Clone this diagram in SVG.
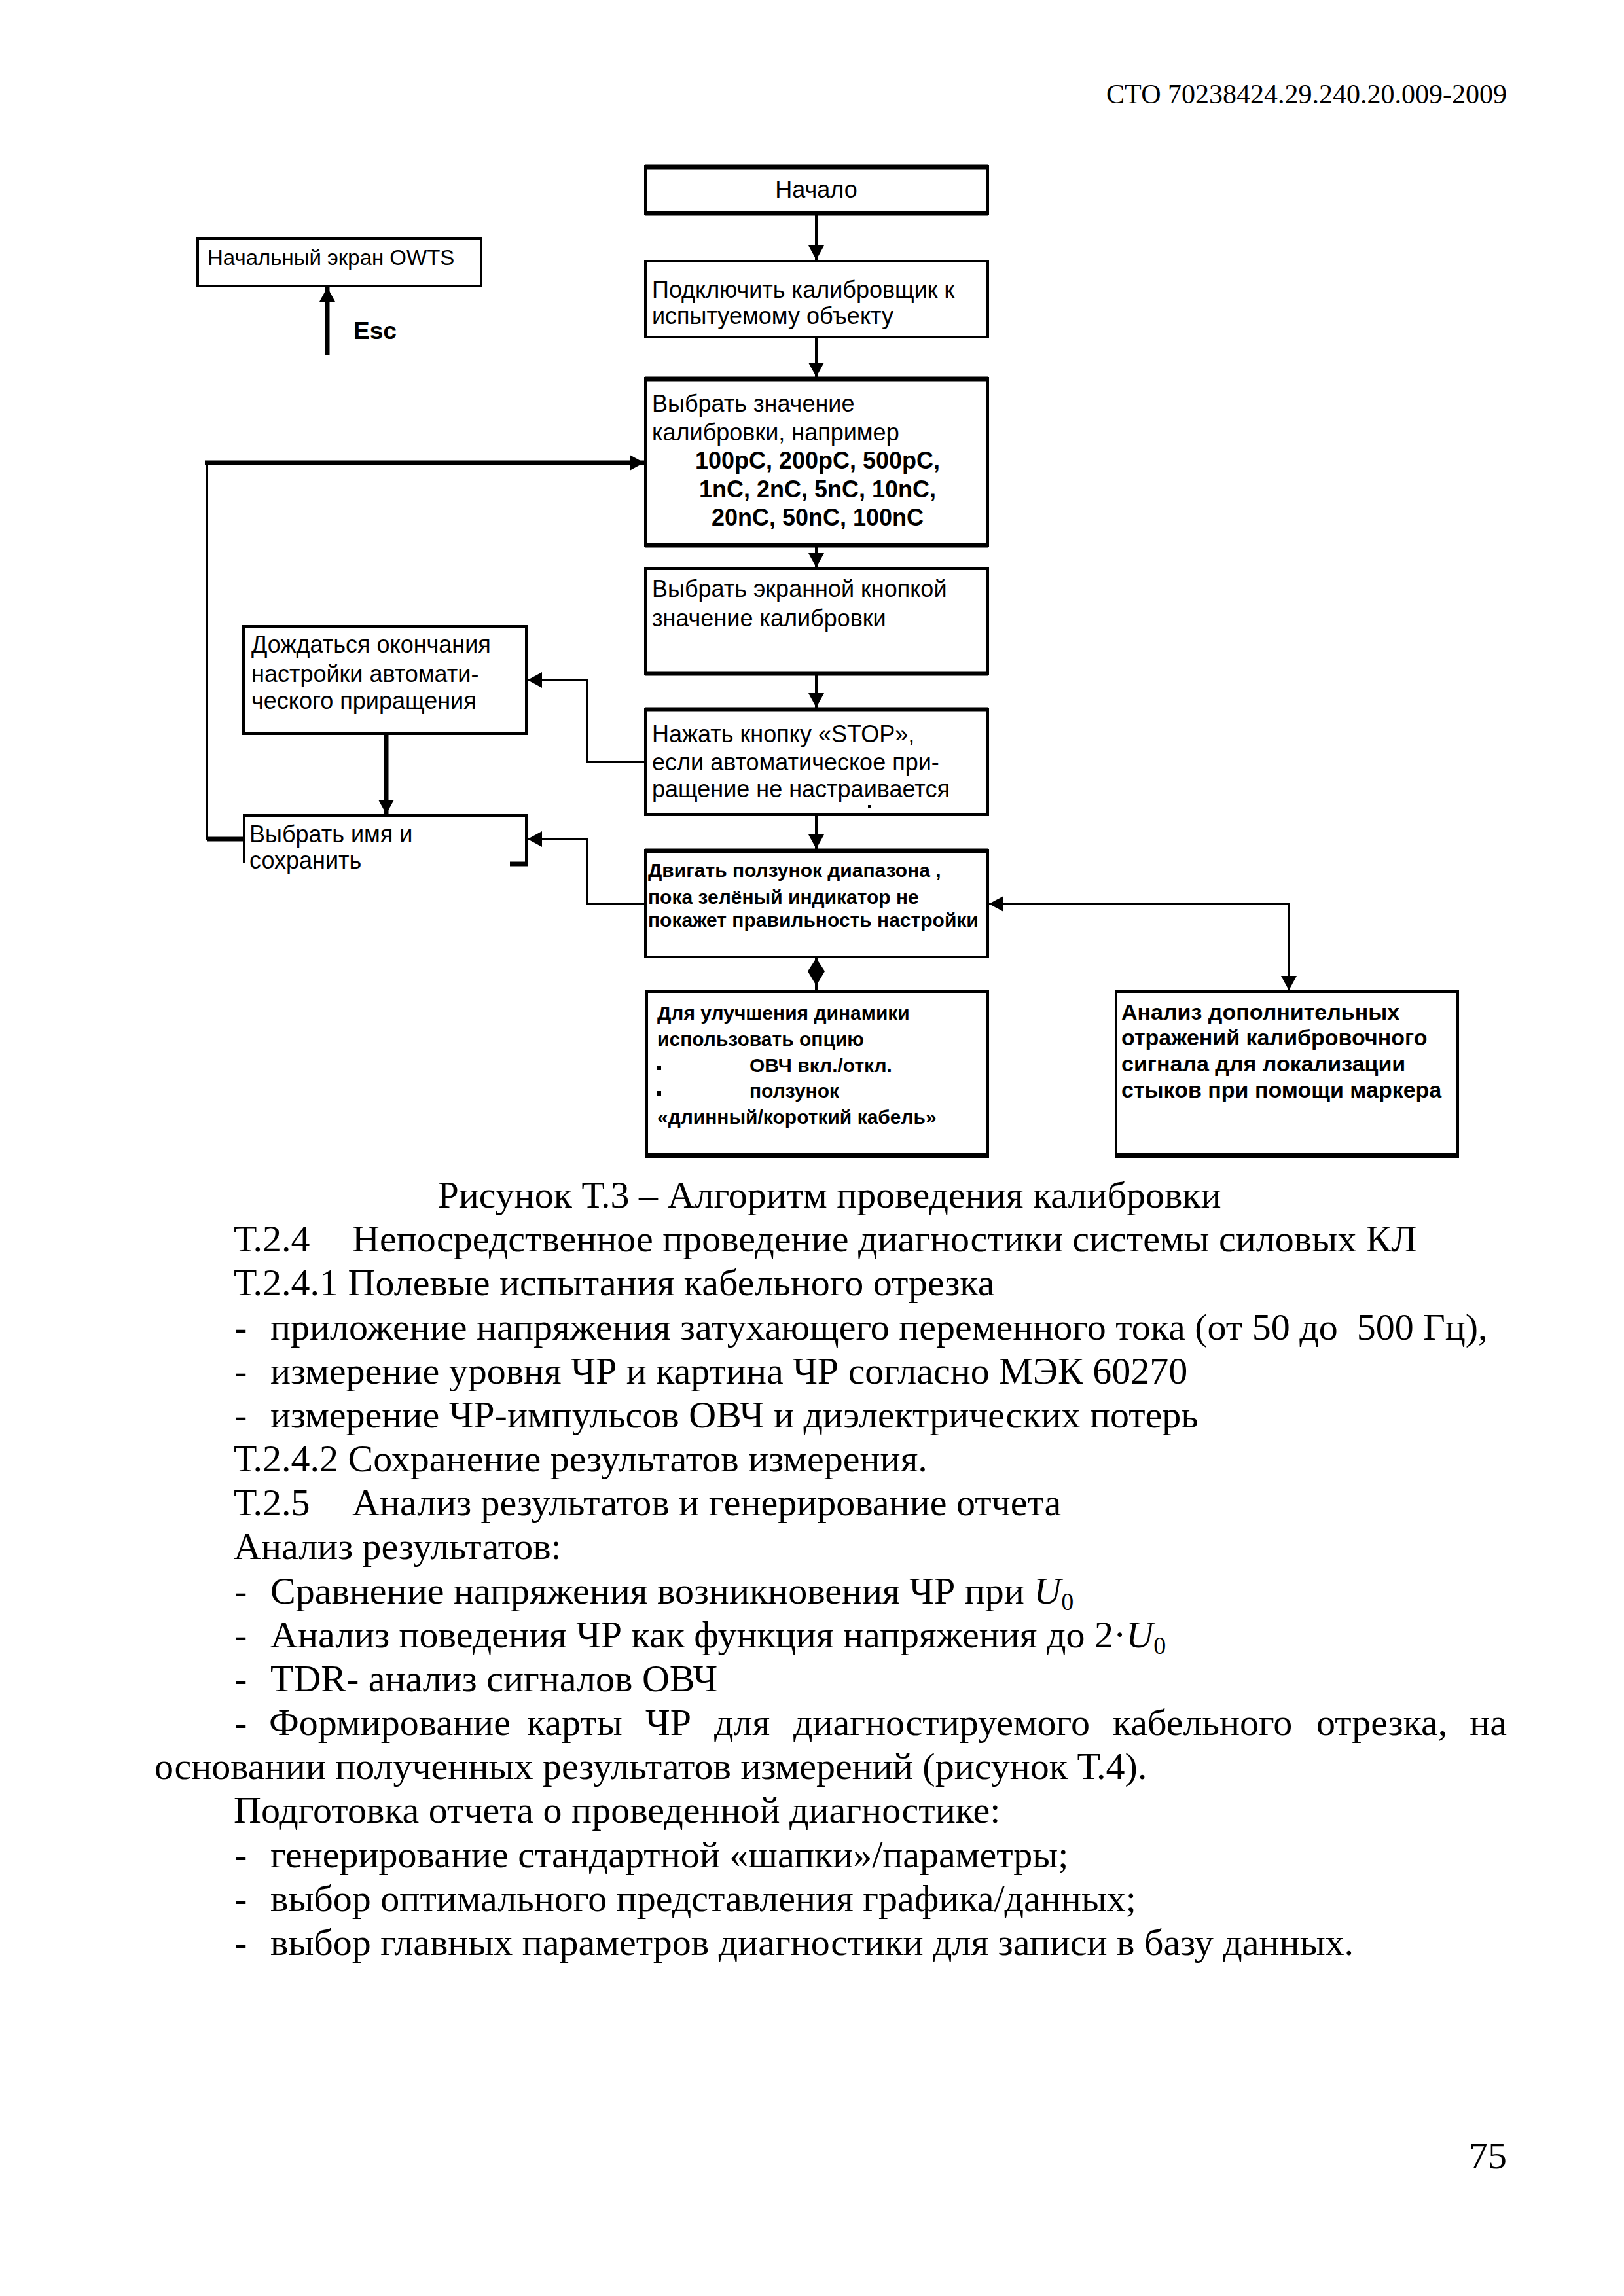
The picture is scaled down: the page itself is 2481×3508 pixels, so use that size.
<svg xmlns="http://www.w3.org/2000/svg" width="2481" height="3508" viewBox="0 0 2481 3508">
<defs>
<style>
.bx{fill:#fff;stroke:#000;stroke-width:4}
.thk{stroke:#000;stroke-width:7;fill:none}
.ln{stroke:#000;stroke-width:4;fill:none}
.t{font-family:"Liberation Sans",Arial,sans-serif;font-size:36px;fill:#000}
.tb{font-family:"Liberation Sans",Arial,sans-serif;font-size:30px;font-weight:bold;fill:#000}
.ta{font-family:"Liberation Sans",Arial,sans-serif;font-size:34px;font-weight:bold;fill:#000}
.s{font-family:"Liberation Serif","Times New Roman",serif;font-size:58px;fill:#000;white-space:pre}
</style>
<marker id="ah" viewBox="0 0 22 24" refX="22" refY="12" markerWidth="22" markerHeight="24" markerUnits="userSpaceOnUse" orient="auto-start-reverse">
<path d="M0,0 L22,12 L0,24 z" fill="#000"/>
</marker>
</defs>
<rect width="2481" height="3508" fill="#fff"/>

<text class="s" x="2302" y="158" text-anchor="end" style="font-size:42px">СТО 70238424.29.240.20.009-2009</text>

<g id="connectors">
<line class="ln" x1="1247" y1="327" x2="1247" y2="397" marker-end="url(#ah)"/>
<line class="ln" x1="1247" y1="515" x2="1247" y2="576" marker-end="url(#ah)"/>
<line class="ln" x1="1247" y1="834" x2="1247" y2="867" marker-end="url(#ah)"/>
<line class="ln" x1="1247" y1="1030" x2="1247" y2="1081" marker-end="url(#ah)"/>
<line class="ln" x1="1247" y1="1244" x2="1247" y2="1297" marker-end="url(#ah)"/>
<line class="ln" x1="1247" y1="1462" x2="1247" y2="1515"/>
<polygon points="1247,1464 1260,1484 1247,1506 1234,1484" fill="#000"/>
<polyline class="ln" points="986,1164 897,1164 897,1039 806,1039" marker-end="url(#ah)"/>
<line class="thk" x1="590" y1="1121" x2="590" y2="1244" marker-end="url(#ah)"/>
<polyline class="ln" points="986,1381 897,1381 897,1282 806,1282" marker-end="url(#ah)"/>
<polyline class="ln" points="373,1282 316,1282 316,707" />
<line class="thk" x1="373" y1="1282" x2="316" y2="1282"/>
<line class="thk" x1="313" y1="707" x2="984" y2="707" marker-end="url(#ah)"/>
<polyline class="ln" points="1511,1381 1969,1381 1969,1513" marker-start="url(#ah)" marker-end="url(#ah)"/>
<line class="thk" x1="500" y1="543" x2="500" y2="439" marker-end="url(#ah)"/>
</g>

<g id="n-start">
<rect class="bx" x="986" y="254" width="523" height="73"/>
<line class="thk" x1="986" y1="255" x2="1509" y2="255"/>
<line class="thk" x1="986" y1="326" x2="1509" y2="326"/>
<text class="t" x="1247" y="302" text-anchor="middle">Начало</text>
</g>

<g id="n-owts">
<rect class="bx" x="302" y="364" width="433" height="73"/>
<text class="t" x="317" y="405" style="font-size:33px">Начальный экран OWTS</text>
</g>
<text class="t" x="540" y="518" style="font-weight:bold;font-size:37px">Esc</text>

<g id="n-connect">
<rect class="bx" x="986" y="399" width="523" height="116"/>
<text class="t" x="996" y="455">Подключить калибровщик к</text>
<text class="t" x="996" y="495">испытуемому объекту</text>
</g>

<g id="n-select-value">
<rect class="bx" x="986" y="578" width="523" height="256"/>
<line class="thk" x1="986" y1="579" x2="1509" y2="579"/>
<line class="thk" x1="986" y1="833" x2="1509" y2="833"/>
<text class="t" x="996" y="629">Выбрать значение</text>
<text class="t" x="996" y="673">калибровки, например</text>
<text class="t" x="1249" y="716" text-anchor="middle" font-weight="bold">100pC, 200pC, 500pC,</text>
<text class="t" x="1249" y="760" text-anchor="middle" font-weight="bold">1nC, 2nC, 5nC, 10nC,</text>
<text class="t" x="1249" y="803" text-anchor="middle" font-weight="bold">20nC, 50nC, 100nC</text>
</g>

<g id="n-screen-button">
<rect class="bx" x="986" y="869" width="523" height="161"/>
<line class="thk" x1="986" y1="1029" x2="1509" y2="1029"/>
<text class="t" x="996" y="912">Выбрать экранной кнопкой</text>
<text class="t" x="996" y="957">значение калибровки</text>
</g>

<g id="n-stop">
<rect class="bx" x="986" y="1083" width="523" height="161"/>
<line class="thk" x1="986" y1="1084" x2="1509" y2="1084"/>
<text class="t" x="996" y="1134">Нажать кнопку «STOP»,</text>
<text class="t" x="996" y="1177">если автоматическое при-</text>
<text class="t" x="996" y="1218">ращение не настраивается</text>
<rect x="1326" y="1230" width="4" height="4" fill="#000"/>
</g>

<g id="n-wait">
<rect class="bx" x="372" y="957" width="432" height="164"/>
<text class="t" x="384" y="997">Дождаться окончания</text>
<text class="t" x="384" y="1042">настройки автомати-</text>
<text class="t" x="384" y="1083">ческого приращения</text>
</g>

<g id="n-save">
<polyline class="ln" points="373,1318 373,1246 804,1246 804,1320"/>
<line class="thk" x1="806" y1="1320" x2="779" y2="1320"/>
<text class="t" x="381" y="1287">Выбрать имя и</text>
<text class="t" x="381" y="1327">сохранить</text>
</g>

<g id="n-slider">
<rect class="bx" x="986" y="1299" width="523" height="163"/>
<line class="thk" x1="986" y1="1300" x2="1509" y2="1300"/>
<text class="tb" x="990" y="1340">Двигать ползунок диапазона ,</text>
<text class="tb" x="990" y="1381">пока зелёный индикатор не</text>
<text class="tb" x="990" y="1416">покажет правильность настройки</text>
</g>

<g id="n-dynamics">
<rect class="bx" x="988" y="1515" width="521" height="252"/>
<line class="thk" x1="988" y1="1765" x2="1509" y2="1765"/>
<text class="tb" x="1004" y="1558">Для улучшения динамики</text>
<text class="tb" x="1004" y="1598">использовать опцию</text>
<rect x="1003" y="1628" width="7" height="7" fill="#000"/>
<text class="tb" x="1145" y="1638">ОВЧ вкл./откл.</text>
<rect x="1003" y="1667" width="7" height="7" fill="#000"/>
<text class="tb" x="1145" y="1677">ползунок</text>
<text class="tb" x="1004" y="1717">«длинный/короткий кабель»</text>
</g>

<g id="n-analysis">
<rect class="bx" x="1705" y="1515" width="522" height="252"/>
<line class="thk" x1="1705" y1="1765" x2="2227" y2="1765"/>
<text class="ta" x="1713" y="1558">Анализ дополнительных</text>
<text class="ta" x="1713" y="1597">отражений калибровочного</text>
<text class="ta" x="1713" y="1637">сигнала для локализации</text>
<text class="ta" x="1713" y="1677">стыков при помощи маркера</text>
</g>

<text class="s" x="1267" y="1845" text-anchor="middle">Рисунок Т.3 – Алгоритм проведения калибровки</text>
<text class="s" x="357" y="1912">Т.2.4</text>
<text class="s" x="538" y="1912">Непосредственное проведение диагностики системы силовых КЛ</text>
<text class="s" x="357" y="1979">Т.2.4.1 Полевые испытания кабельного отрезка</text>
<text class="s" x="358" y="2047">-</text>
<text class="s" x="413" y="2047">приложение напряжения затухающего переменного тока (от 50 до  500 Гц),</text>
<text class="s" x="358" y="2114">-</text>
<text class="s" x="413" y="2114">измерение уровня ЧР и картина ЧР согласно МЭК 60270</text>
<text class="s" x="358" y="2181">-</text>
<text class="s" x="413" y="2181">измерение ЧР-импульсов ОВЧ и диэлектрических потерь</text>
<text class="s" x="357" y="2248">Т.2.4.2 Сохранение результатов измерения.</text>
<text class="s" x="357" y="2315">Т.2.5</text>
<text class="s" x="538" y="2315">Анализ результатов и генерирование отчета</text>
<text class="s" x="357" y="2382">Анализ результатов:</text>
<text class="s" x="358" y="2450">-</text>
<text class="s" x="413" y="2450">Сравнение напряжения возникновения ЧР при <tspan font-style="italic">U</tspan><tspan font-size="38px" dy="10">0</tspan></text>
<text class="s" x="358" y="2517">-</text>
<text class="s" x="413" y="2517">Анализ поведения ЧР как функция напряжения до 2·<tspan font-style="italic">U</tspan><tspan font-size="38px" dy="10">0</tspan></text>
<text class="s" x="358" y="2584">-</text>
<text class="s" x="413" y="2584">TDR- анализ сигналов ОВЧ</text>
<text class="s" y="2651"><tspan x="358">-</tspan><tspan x="411">Формирование</tspan><tspan x="805">карты</tspan><tspan x="986">ЧР</tspan><tspan x="1091">для</tspan><tspan x="1212">диагностируемого</tspan><tspan x="1700">кабельного</tspan><tspan x="2011">отрезка,</tspan></text>
<text class="s" x="2302" y="2651" text-anchor="end">на</text>
<text class="s" x="236" y="2718">основании полученных результатов измерений (рисунок Т.4).</text>
<text class="s" x="357" y="2785">Подготовка отчета о проведенной диагностике:</text>
<text class="s" x="358" y="2853">-</text>
<text class="s" x="413" y="2853">генерирование стандартной «шапки»/параметры;</text>
<text class="s" x="358" y="2920">-</text>
<text class="s" x="413" y="2920">выбор оптимального представления графика/данных;</text>
<text class="s" x="358" y="2987">-</text>
<text class="s" x="413" y="2987">выбор главных параметров диагностики для записи в базу данных.</text>
<text class="s" x="2302" y="3313" text-anchor="end">75</text>
</svg>
